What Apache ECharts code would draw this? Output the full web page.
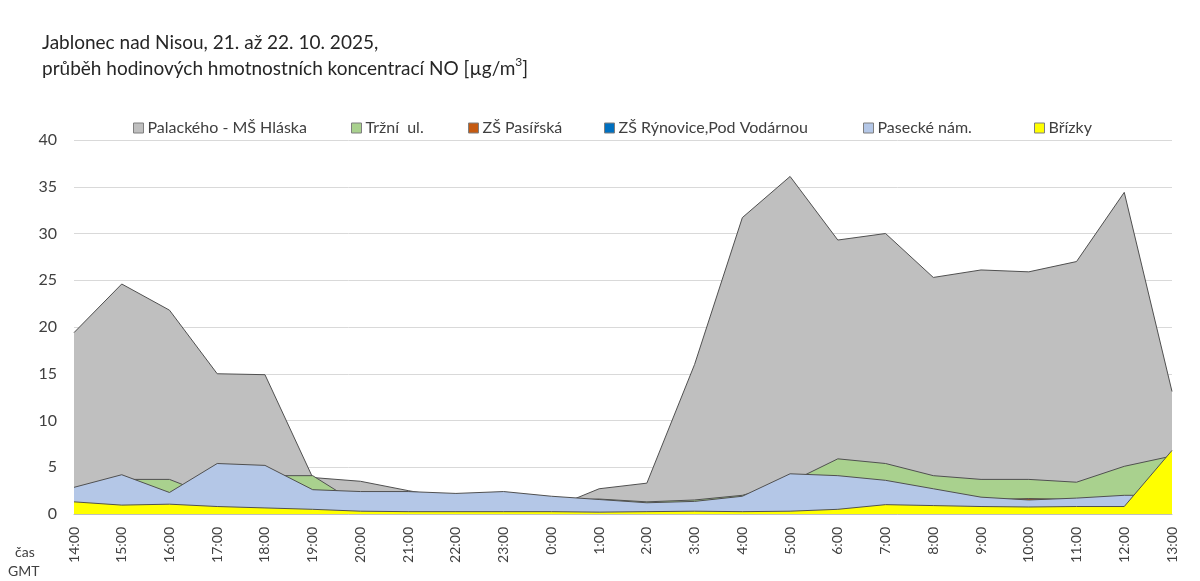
<!DOCTYPE html>
<html>
<head>
<meta charset="utf-8">
<script src="https://cdn.jsdelivr.net/npm/echarts@6/dist/echarts.min.js"></script>
<style>
html,body{margin:0;padding:0;background:#fff;}
#c{width:1200px;height:581px;}
</style>
</head>
<body>
<div id="c"></div>
<script>
const categories = ['14:00','15:00','16:00','17:00','18:00','19:00','20:00','21:00','22:00','23:00','0:00','1:00','2:00','3:00','4:00','5:00','6:00','7:00','8:00','9:00','10:00','11:00','12:00','13:00'];
const seriesNames = ['Palackého - MŠ Hláska','Tržní  ul.','ZŠ Pasířská','ZŠ Rýnovice,Pod Vodárnou','Pasecké nám.','Břízky'];
const palackeho = [19.4, 24.6, 21.8, 15.0, 14.9, 3.9, 3.5, 2.5, 1.6, 1.2, 0.6, 2.7, 3.3, 16.0, 31.7, 36.1, 29.3, 30.0, 25.3, 26.1, 25.9, 27.0, 34.4, 13.1];
const trzni = [2.5, 3.7, 3.7, 1.7, 4.1, 4.1, 0.9, 1.0, 1.0, 1.2, 1.4, 1.6, 1.3, 1.5, 2.0, 3.4, 5.9, 5.4, 4.1, 3.7, 3.7, 3.4, 5.1, 6.2];
const pasirska = [null, null, null, null, null, null, null, null, null, null, null, null, null, null, null, null, null, null, null, 1.5, 1.65, 1.55, 1.9, null];
const rynovice = [null, null, null, null, null, null, null, null, null, null, null, null, null, null, null, null, null, null, null, null, null, null, null, null];
const pasecke = [2.85, 4.2, 2.3, 5.4, 5.2, 2.6, 2.4, 2.4, 2.2, 2.4, 1.9, 1.55, 1.2, 1.35, 1.9, 4.3, 4.1, 3.6, 2.7, 1.8, 1.5, 1.7, 2.0, 2.0];
const brizky = [1.3, 0.95, 1.05, 0.8, 0.65, 0.5, 0.3, 0.25, 0.25, 0.25, 0.25, 0.2, 0.25, 0.3, 0.25, 0.3, 0.5, 1.0, 0.9, 0.8, 0.75, 0.8, 0.8, 6.8];
const yTicks = {min: 0, max: 40, interval: 5};

const colors = ['#bfbfbf','#a9d18e','#c55a11','#0070c0','#b4c7e7','#ffff00'];
const dataSets = [palackeho, trzni, pasirska, rynovice, pasecke, brizky];
const legendLeft = [128, 346, 463, 599, 858, 1029];
const FONT = 'Lato, "Open Sans", sans-serif';

const chart = echarts.init(document.getElementById('c'), null, {renderer: 'canvas'});
chart.setOption({
  backgroundColor: '#ffffff',
  animation: false,
  color: colors,
  title: {
    left: 37,
    top: 25,
    text: 'Jablonec nad Nisou, 21. až 22. 10. 2025,\nprůběh hodinových hmotnostních koncentrací NO [µg/m{sup|3}]',
    textStyle: {
      fontFamily: FONT, fontSize: 19, fontWeight: 'normal', color: '#262626', lineHeight: 26,
      rich: {
        sup: {fontFamily: FONT, fontSize: 12, color: '#262626', verticalAlign: 'top', lineHeight: 26, padding: [0,0,6,0]}
      }
    }
  },
  legend: seriesNames.map((n, i) => ({
    left: legendLeft[i],
    top: 115,
    itemWidth: 10,
    itemHeight: 10,
    itemGap: 0,
    icon: 'rect',
    itemStyle: {borderColor: '#7f7f7f', borderWidth: 1},
    textStyle: {fontFamily: FONT, fontSize: 16, color: '#404040', padding: [0,0,0,-1]},
    data: [n]
  })),
  grid: {left: 74, right: 28, top: 140, bottom: 67, containLabel: false},
  xAxis: {
    type: 'category',
    data: categories,
    boundaryGap: false,
    axisLine: {show: true, lineStyle: {color: '#bfbfbf', width: 1}},
    axisTick: {show: false},
    axisLabel: {rotate: 90, margin: 13, fontFamily: FONT, fontSize: 14, color: '#404040', interval: 0}
  },
  yAxis: {
    type: 'value',
    min: yTicks.min, max: yTicks.max, interval: yTicks.interval,
    axisLine: {show: false},
    axisTick: {show: false},
    splitLine: {lineStyle: {color: '#d9d9d9', width: 1}},
    axisLabel: {margin: 17, fontFamily: FONT, fontSize: 16, color: '#404040'}
  },
  series: seriesNames.map((n, i) => ({
    name: n,
    type: 'line',
    data: dataSets[i],
    showSymbol: false,
    symbol: 'none',
    smooth: false,
    itemStyle: {color: colors[i]},
    lineStyle: {color: '#505050', width: 1},
    areaStyle: {color: colors[i], opacity: 1},
    z: 2 + i
  })),
  graphic: [
    {type: 'text', left: 15, top: 545, style: {text: 'čas', font: '14px ' + FONT, fill: '#404040'}},
    {type: 'text', left: 8, top: 564, style: {text: 'GMT', font: '14px ' + FONT, fill: '#404040'}}
  ]
});
</script>
</body>
</html>
